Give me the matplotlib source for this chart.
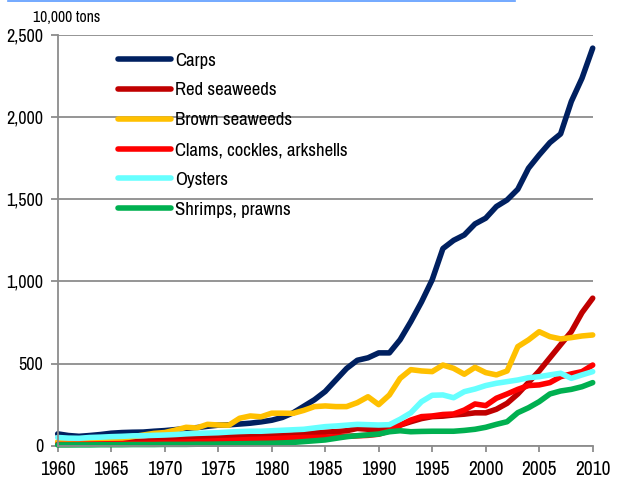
import matplotlib
matplotlib.use("Agg")
import matplotlib.pyplot as plt
from matplotlib.lines import Line2D

plt.rcParams["font.family"] = ["Archivo Narrow", "Liberation Sans", "DejaVu Sans"]

years = list(range(1960, 2011))

carps = [72, 62, 57, 62, 68, 76, 80, 82, 83, 88,
         92, 98, 105, 110, 118, 125, 127, 132, 137, 145,
         155, 172, 200, 240, 280, 330, 400, 470, 520, 535,
         565, 565, 645, 755, 875, 1010, 1200, 1250, 1283, 1350,
         1385, 1456, 1496, 1561, 1689, 1770, 1845, 1898, 2095, 2237,
         2420]
red_seaweeds = [15, 15, 17, 18, 20, 22, 24, 26, 28, 32,
                38, 42, 46, 50, 52, 58, 60, 62, 63, 62,
                62, 64, 66, 72, 78, 82, 86, 91, 105, 100,
                98, 108, 125, 146, 165, 177, 180, 187, 192, 200,
                200, 222, 258, 315, 385, 455, 535, 615, 694, 810,
                898]
brown_seaweeds = [25, 22, 22, 35, 35, 38, 45, 55, 65, 75,
                  80, 95, 112, 108, 130, 126, 125, 167, 181, 176,
                  198, 198, 197, 215, 238, 242, 238, 238, 262, 298,
                  250, 309, 410, 463, 455, 451, 491, 471, 435, 477,
                  445, 431, 455, 603, 644, 694, 664, 650, 658, 668,
                  674]
clams = [8, 8, 9, 10, 11, 12, 13, 14, 15, 17,
         18, 20, 22, 25, 27, 30, 32, 35, 38, 40,
         42, 45, 48, 50, 50, 52, 55, 57, 60, 63,
         70, 90, 125, 156, 177, 181, 190, 193, 217, 254,
         244, 289, 315, 343, 366, 370, 384, 420, 437, 451,
         491]
oysters = [50, 46, 45, 50, 52, 55, 57, 60, 61, 63,
           65, 68, 72, 75, 77, 79, 83, 86, 88, 88,
           91, 94, 97, 100, 108, 116, 120, 125, 130, 128,
           126, 128, 161, 200, 268, 307, 309, 292, 329, 345,
           366, 380, 390, 400, 414, 420, 431, 441, 410, 431,
           451]
shrimps = [5, 5, 5, 5, 6, 6, 6, 7, 7, 7,
           8, 8, 8, 9, 9, 10, 11, 12, 13, 14,
           15, 17, 20, 25, 30, 35, 45, 55, 61, 66,
           71, 85, 91, 85, 87, 88, 88, 88, 93, 100,
           112, 130, 146, 201, 231, 268, 315, 333, 343, 359,
           384]

series = [
    ("Carps", carps, "#002060"),
    ("Red seaweeds", red_seaweeds, "#C00000"),
    ("Brown seaweeds", brown_seaweeds, "#FFC000"),
    ("Clams, cockles, arkshells", clams, "#FF0000"),
    ("Oysters", oysters, "#66FFFF"),
    ("Shrimps, prawns", shrimps, "#00B050"),
]

y_ticks = [0, 500, 1000, 1500, 2000, 2500]
y_labels = ["0", "500", "1,000", "1,500", "2,000", "2,500"]
x_ticks = list(range(1960, 2011, 5))

fig = plt.figure(figsize=(6.23, 4.79), dpi=100)
ax = fig.add_axes([57.7 / 623, 1 - 445.7 / 479, 535 / 623, 410.7 / 479])

for name, vals, color in series:
    ax.plot(years, vals, color=color, lw=4.0, label=name,
            solid_joinstyle="round", solid_capstyle="round", clip_on=False)

ax.set_xlim(1960, 2010)
ax.set_ylim(0, 2500)
ax.set_xticks(x_ticks)
ax.set_xticklabels([str(t) for t in x_ticks], fontsize=14)
ax.set_yticks(y_ticks)
ax.set_yticklabels(y_labels, fontsize=13)

grid_c = "#8c8c8c"
ax.yaxis.grid(True, color=grid_c, lw=1.3)
ax.set_axisbelow(True)
for side in ("top", "right"):
    ax.spines[side].set_visible(False)
for side in ("left", "bottom"):
    ax.spines[side].set_color(grid_c)
    ax.spines[side].set_linewidth(1.3)
ax.tick_params(axis="both", colors=grid_c, labelcolor="black", width=1.3)
ax.tick_params(axis="x", length=4.5, pad=5.5)
ax.tick_params(axis="y", length=5, pad=5.5)

fig.text(33 / 623, 1 - 17 / 479, "10,000 tons", fontsize=11.3, va="center", ha="left")

leg = ax.legend(loc="upper left", bbox_to_anchor=(53 / 535, 1 - 10 / 410.7),
                frameon=False, fontsize=13.5, handlelength=2.8,
                handletextpad=0.25, labelspacing=0.73, borderaxespad=0)
for h in leg.get_lines():
    h.set_linewidth(4.0)
    h.set_solid_capstyle("round")

fig.add_artist(Line2D([8 / 623, 515 / 623], [1 - 0.5 / 479, 1 - 0.5 / 479],
                      color="#5B9BFF", lw=1.2, transform=fig.transFigure))

fig.savefig("out.png", dpi=100)
